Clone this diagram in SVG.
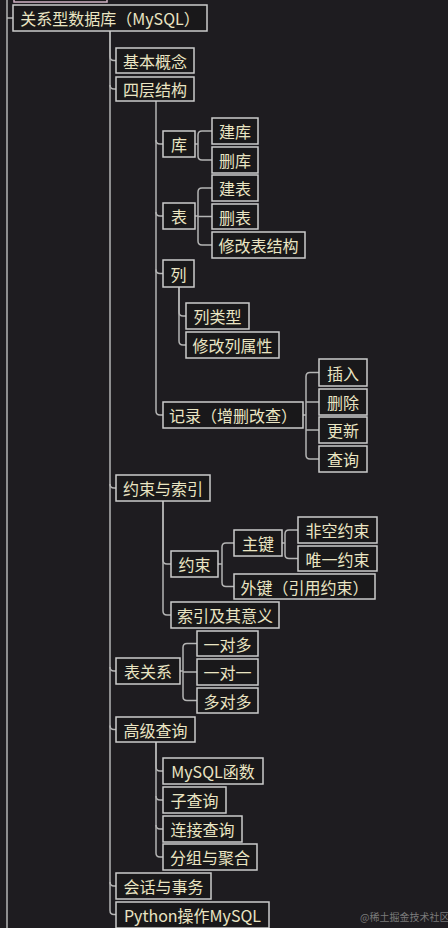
<svg xmlns="http://www.w3.org/2000/svg" width="448" height="928" viewBox="0 0 448 928">
<style>
.bg{fill:#1e1c20}
.n rect{fill:#19181a;stroke:#cbcbcb;stroke-width:1.5}
.n text{fill:#eae5c3;font-family:"Noto Sans CJK SC","Noto Sans",sans-serif;font-size:16px;text-anchor:middle;dominant-baseline:central}
#links path{fill:none;stroke:#b4b4b4;stroke-width:1.5}
.wm{fill:#7a7a7a;font-family:"Noto Sans CJK SC",sans-serif;font-size:10px}
</style>
<rect class="bg" x="0" y="0" width="448" height="928"/>
<g id="links">
<path d="M7,0 V928"/>
<path d="M7,18 H13"/>
<path d="M110,31 V56.5 Q110,60.5 114,60.5 H116"/>
<path d="M110,31 V910.5 Q110,914.5 114,914.5 H116"/>
<path d="M110,85 Q110,89 114,89 H116"/>
<path d="M110,484 Q110,488 114,488 H116"/>
<path d="M110,667 Q110,671 114,671 H116"/>
<path d="M110,725.5 Q110,729.5 114,729.5 H116"/>
<path d="M110,882 Q110,886 114,886 H116"/>
<path d="M156,101 V411 Q156,415 160,415 H163"/>
<path d="M156,140 Q156,144 160,144 H163"/>
<path d="M156,212 Q156,216 160,216 H163"/>
<path d="M156,269.5 Q156,273.5 160,273.5 H163"/>
<path d="M195,144 H198"/>
<path d="M198,144 V135 Q198,131 202,131 H212"/>
<path d="M198,144 V156 Q198,160 202,160 H212"/>
<path d="M195,216 H198"/>
<path d="M198,216 V192 Q198,188 202,188 H212"/>
<path d="M198,216.5 H212"/>
<path d="M198,216 V241 Q198,245 202,245 H212"/>
<path d="M179,287 V312 Q179,316 183,316 H186"/>
<path d="M179,287 V341 Q179,345 183,345 H186"/>
<path d="M303,415 H306"/>
<path d="M306,415 V376.5 Q306,372.5 310,372.5 H319"/>
<path d="M306,402 H319"/>
<path d="M306,430 H319"/>
<path d="M306,415 V455 Q306,459 310,459 H319"/>
<path d="M163,501 V560 Q163,564 167,564 H171"/>
<path d="M163,501 V611 Q163,615 167,615 H171"/>
<path d="M218,564 H222"/>
<path d="M222,564 V547 Q222,543 226,543 H234"/>
<path d="M222,564 V582.5 Q222,586.5 226,586.5 H234"/>
<path d="M282,543 H285"/>
<path d="M285,543 V534 Q285,530 289,530 H298"/>
<path d="M285,543 V554.5 Q285,558.5 289,558.5 H298"/>
<path d="M180,671 H183"/>
<path d="M183,671 V647.5 Q183,643.5 187,643.5 H197"/>
<path d="M183,672 H197"/>
<path d="M183,671 V696.5 Q183,700.5 187,700.5 H197"/>
<path d="M156,742 V767 Q156,771 160,771 H163"/>
<path d="M156,742 V853 Q156,857 160,857 H163"/>
<path d="M156,796 Q156,800 160,800 H163"/>
<path d="M156,825 Q156,829 160,829 H163"/>
</g>
<rect x="14" y="-20" width="93" height="22" fill="#19181a" stroke="#d2b4c6" stroke-width="1.5"/>
<g id="root" class="n"><rect x="13" y="5" width="194" height="26"/><text x="110" y="18">关系型数据库（MySQL）</text></g>
<g id="n1" class="n"><rect x="116" y="48" width="78" height="25"/><text x="155" y="60.5">基本概念</text></g>
<g id="n2" class="n"><rect x="116" y="77" width="78" height="24"/><text x="155" y="89">四层结构</text></g>
<g id="n2a" class="n"><rect x="163" y="131" width="32" height="26"/><text x="179" y="144">库</text></g>
<g id="n2a1" class="n"><rect x="212" y="118" width="46" height="26"/><text x="235" y="131">建库</text></g>
<g id="n2a2" class="n"><rect x="212" y="147" width="46" height="26"/><text x="235" y="160">删库</text></g>
<g id="n2b" class="n"><rect x="163" y="203" width="32" height="26"/><text x="179" y="216">表</text></g>
<g id="n2b1" class="n"><rect x="212" y="175" width="46" height="26"/><text x="235" y="188">建表</text></g>
<g id="n2b2" class="n"><rect x="212" y="204" width="46" height="25"/><text x="235" y="216.5">删表</text></g>
<g id="n2b3" class="n"><rect x="212" y="232" width="93" height="26"/><text x="258.5" y="245">修改表结构</text></g>
<g id="n2c" class="n"><rect x="163" y="260" width="31" height="27"/><text x="178.5" y="273.5">列</text></g>
<g id="n2c1" class="n"><rect x="186" y="303" width="63" height="26"/><text x="217.5" y="316">列类型</text></g>
<g id="n2c2" class="n"><rect x="186" y="332" width="93" height="26"/><text x="232.5" y="345">修改列属性</text></g>
<g id="n2d" class="n"><rect x="163" y="402" width="140" height="26"/><text x="233" y="415">记录（增删改查）</text></g>
<g id="n2d1" class="n"><rect x="319" y="359" width="48" height="27"/><text x="343" y="372.5">插入</text></g>
<g id="n2d2" class="n"><rect x="319" y="389" width="48" height="26"/><text x="343" y="402">删除</text></g>
<g id="n2d3" class="n"><rect x="319" y="417" width="48" height="26"/><text x="343" y="430">更新</text></g>
<g id="n2d4" class="n"><rect x="319" y="446" width="48" height="26"/><text x="343" y="459">查询</text></g>
<g id="n3" class="n"><rect x="116" y="475" width="94" height="26"/><text x="163" y="488">约束与索引</text></g>
<g id="n3a" class="n"><rect x="171" y="551" width="47" height="26"/><text x="194.5" y="564">约束</text></g>
<g id="n3a1" class="n"><rect x="234" y="530" width="48" height="26"/><text x="258" y="543">主键</text></g>
<g id="n3a1a" class="n"><rect x="298" y="517" width="79" height="26"/><text x="337.5" y="530">非空约束</text></g>
<g id="n3a1b" class="n"><rect x="298" y="546" width="79" height="25"/><text x="337.5" y="558.5">唯一约束</text></g>
<g id="n3a2" class="n"><rect x="234" y="574" width="141" height="25"/><text x="304.5" y="586.5">外键（引用约束）</text></g>
<g id="n3b" class="n"><rect x="171" y="602" width="108" height="26"/><text x="225" y="615">索引及其意义</text></g>
<g id="n4" class="n"><rect x="116" y="658" width="64" height="26"/><text x="148" y="671">表关系</text></g>
<g id="n4a" class="n"><rect x="197" y="631" width="61" height="25"/><text x="227.5" y="643.5">一对多</text></g>
<g id="n4b" class="n"><rect x="197" y="659" width="61" height="26"/><text x="227.5" y="672">一对一</text></g>
<g id="n4c" class="n"><rect x="197" y="688" width="61" height="25"/><text x="227.5" y="700.5">多对多</text></g>
<g id="n5" class="n"><rect x="116" y="717" width="79" height="25"/><text x="155.5" y="729.5">高级查询</text></g>
<g id="n5a" class="n"><rect x="163" y="758" width="100" height="26"/><text x="213" y="771">MySQL函数</text></g>
<g id="n5b" class="n"><rect x="163" y="787" width="63" height="26"/><text x="194.5" y="800">子查询</text></g>
<g id="n5c" class="n"><rect x="163" y="816" width="79" height="26"/><text x="202.5" y="829">连接查询</text></g>
<g id="n5d" class="n"><rect x="163" y="844" width="94" height="26"/><text x="210" y="857">分组与聚合</text></g>
<g id="n6" class="n"><rect x="116" y="873" width="95" height="26"/><text x="163.5" y="886">会话与事务</text></g>
<g id="n7" class="n"><rect x="116" y="902" width="153" height="26"/><text x="192.5" y="915">Python操作MySQL</text></g>
<text class="wm" x="360" y="921">@稀土掘金技术社区</text>
</svg>
